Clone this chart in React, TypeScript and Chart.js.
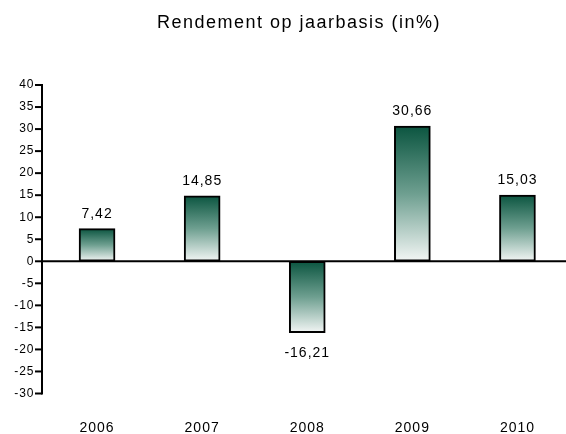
import React, { useEffect, useRef } from 'react';
import { Chart, registerables } from 'chart.js';
Chart.register(...registerables);

const TITLE = 'Rendement op jaarbasis (in%)';
const years = ['2006', '2007', '2008', '2009', '2010'];
const returns = [7.42, 14.85, -16.21, 30.66, 15.03];
const yMin = -30;
const yMax = 40;
const yStep = 5;

const FONT = '"Liberation Sans", Arial, sans-serif';
const fmt = (v: number) => v.toFixed(2).replace('.', ',');

const customPlugin = {
  id: 'customAxes',
  beforeDraw(chart: any) {
    chart.ctx.letterSpacing = '1px';
  },
  afterDatasetsDraw(chart: any) {
    const { ctx } = chart;
    const y = chart.scales.y;
    ctx.save();
    ctx.strokeStyle = '#000';
    ctx.lineWidth = 2;
    const ax = 42;
    ctx.beginPath();
    ctx.moveTo(ax, y.getPixelForValue(yMax) - 1);
    ctx.lineTo(ax, y.getPixelForValue(yMin) + 1);
    ctx.stroke();
    y.ticks.forEach((t: any) => {
      const py = y.getPixelForValue(t.value);
      ctx.beginPath();
      ctx.moveTo(35, py);
      ctx.lineTo(ax, py);
      ctx.stroke();
    });
    const z = y.getPixelForValue(0);
    ctx.beginPath();
    ctx.moveTo(ax - 1, z);
    ctx.lineTo(chart.width, z);
    ctx.stroke();

    ctx.fillStyle = '#000';
    ctx.font = `14px ${FONT}`;
    ctx.textAlign = 'center';
    ctx.textBaseline = 'alphabetic';
    ctx.letterSpacing = '1px';
    const meta = chart.getDatasetMeta(0);
    meta.data.forEach((el: any, i: number) => {
      const v = returns[i];
      const ty = v >= 0 ? el.y - 11 : el.y + 24;
      ctx.fillText(fmt(v), el.x, ty);
    });

    ctx.font = `18px ${FONT}`;
    ctx.letterSpacing = '1.5px';
    ctx.fillText(TITLE, 299, 28);
    ctx.restore();
  },
};

export default function App() {
  const ref = useRef<HTMLCanvasElement | null>(null);
  useEffect(() => {
    document.body.style.margin = '0';
    const canvas = ref.current!;
    const chart = new Chart(canvas, {
      type: 'bar',
      data: {
        labels: years,
        datasets: [
          {
            data: returns,
            barThickness: 36,
            borderWidth: 2,
            borderColor: '#000',
            borderSkipped: false,
            backgroundColor: (c: any) => {
              const ch = c.chart;
              const ys = ch.scales && ch.scales.y;
              if (!ch.chartArea || !ys || c.raw === undefined) return '#1a6650';
              const p0 = ys.getPixelForValue(0);
              const p1 = ys.getPixelForValue(c.raw);
              const top = Math.min(p0, p1);
              const bot = Math.max(p0, p1);
              const g = ch.ctx.createLinearGradient(0, top, 0, bot);
              g.addColorStop(0, '#0b5540');
              g.addColorStop(0.5, '#6e9f90');
              g.addColorStop(1, '#f3f6f5');
              return g;
            },
          },
        ],
      },
      options: {
        responsive: false,
        animation: false,
        devicePixelRatio: 1,
        layout: { padding: { top: 85, left: 0, right: 0, bottom: 0 } },
        plugins: { legend: { display: false }, tooltip: { enabled: false }, title: { display: false } },
        scales: {
          x: {
            grid: { display: false, drawTicks: false },
            border: { display: false },
            ticks: { padding: 26, color: '#000', font: { family: FONT, size: 14 } },
            afterFit: (s: any) => {
              s.height = 40.5;
            },
          },
          y: {
            min: yMin,
            max: yMax,
            grid: { display: false, drawTicks: false },
            border: { display: false },
            ticks: {
              stepSize: yStep,
              padding: 10,
              color: '#000',
              autoSkip: false,
              font: { family: FONT, size: 12 },
            },
            afterFit: (s: any) => {
              s.width = 44.5;
            },
          },
        },
      },
      plugins: [customPlugin],
    } as any);
    return () => chart.destroy();
  }, []);
  return (
    <div style={{ width: 566, height: 434, overflow: 'hidden', background: '#fff' }}>
      <canvas ref={ref} width={570} height={434} style={{ display: 'block', width: 570, height: 434 }} />
    </div>
  );
}
